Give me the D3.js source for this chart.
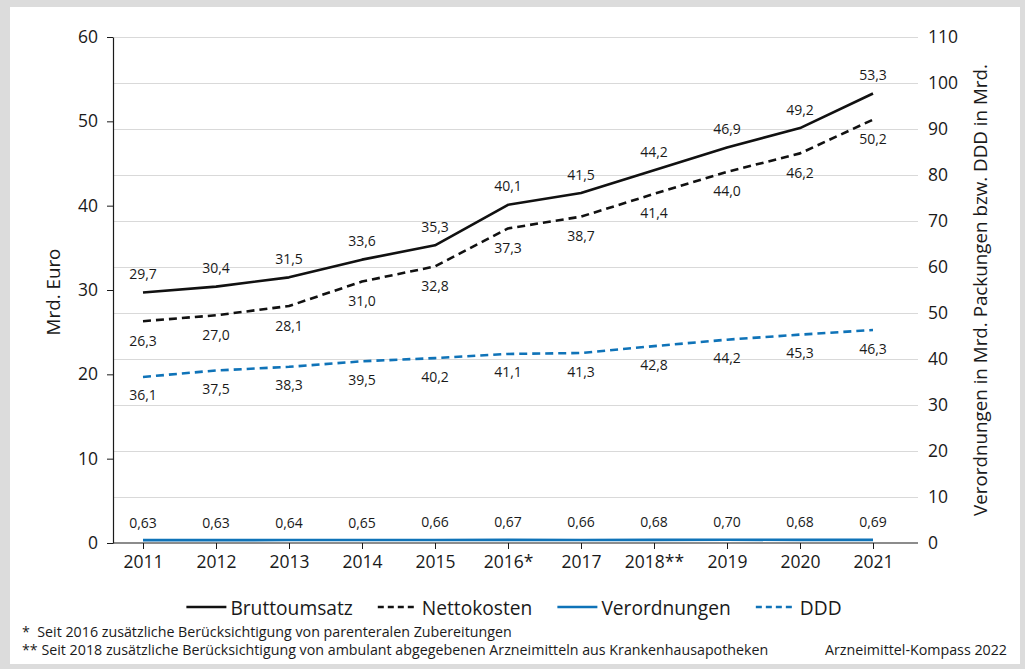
<!DOCTYPE html>
<html>
<head>
<meta charset="utf-8">
<script src="https://cdn.jsdelivr.net/npm/d3@7"></script>
<style>
  body { margin: 0; background: #fff; }
  svg text { font-family: "Open Sans", "Noto Sans", sans-serif; fill: #1a1a1a; }
  .axis path, .axis line { stroke: #1a1a1a; }
  .axis text { font-size: 17.5px; }
  .grid line { stroke: #d9d9d9; stroke-width: 1; }
  .value-label { font-size: 14px; text-anchor: middle; }
  .axis-title { font-size: 18.8px; text-anchor: middle; }
  .legend text { font-size: 19.2px; }
  .footnote { font-size: 14.25px; }
</style>
</head>
<body>
<div id="chart"></div>
<script>
// data
const years = ['2011', '2012', '2013', '2014', '2015', '2016*', '2017', '2018**', '2019', '2020', '2021'];
const bruttoumsatz = [29.7, 30.4, 31.5, 33.6, 35.3, 40.1, 41.5, 44.2, 46.9, 49.2, 53.3];
const nettokosten = [26.3, 27.0, 28.1, 31.0, 32.8, 37.3, 38.7, 41.4, 44.0, 46.2, 50.2];
const verordnungen = [0.63, 0.63, 0.64, 0.65, 0.66, 0.67, 0.66, 0.68, 0.70, 0.68, 0.69];
const ddd = [36.1, 37.5, 38.3, 39.5, 40.2, 41.1, 41.3, 42.8, 44.2, 45.3, 46.3];

const leftTicks = [0, 10, 20, 30, 40, 50, 60];
const rightTicks = [0, 10, 20, 30, 40, 50, 60, 70, 80, 90, 100, 110];

const footnotes = [
  '*  Seit 2016 zusätzliche Berücksichtigung von parenteralen Zubereitungen',
  '** Seit 2018 zusätzliche Berücksichtigung von ambulant abgegebenen Arzneimitteln aus Krankenhausapotheken'
];
const source = 'Arzneimittel-Kompass 2022';

const de = d3.formatLocale({decimal: ',', thousands: '.', grouping: [3], currency: ['', ' €']});
const blue = '#0f73b8';

// series config: which axis, style, label side
const series = [
  {name: 'Bruttoumsatz', values: bruttoumsatz, axis: 'left', color: '#111', dash: null, width: 2.6, fmt: de.format('.1f'), dy: -19},
  {name: 'Nettokosten', values: nettokosten, axis: 'left', color: '#111', dash: '8,5', width: 2.6, fmt: de.format('.1f'), dy: 19},
  {name: 'Verordnungen', values: verordnungen, axis: 'right', color: blue, dash: null, width: 2.6, fmt: de.format('.2f'), dy: -18},
  {name: 'DDD', values: ddd, axis: 'right', color: blue, dash: '8,5', width: 2.6, fmt: de.format('.1f'), dy: 18}
];

const width = 1025, height = 669;
const plot = {left: 113, right: 918, top: 37, bottom: 543};

const svg = d3.select('#chart')
  .append('svg')
    .attr('width', width)
    .attr('height', height);

// grey frame around the white panel
svg.append('rect')
    .attr('width', width)
    .attr('height', height)
    .attr('fill', '#dcdcdc');
svg.append('rect')
    .attr('x', 10)
    .attr('y', 7)
    .attr('width', 1010)
    .attr('height', 657)
    .attr('fill', '#fff');

// scales
const xScale = d3.scalePoint()
  .domain(years)
  .range([143, 873]);

const yLeft = d3.scaleLinear()
  .domain([0, 60])
  .range([plot.bottom, plot.top]);

const yRight = d3.scaleLinear()
  .domain([0, 110])
  .range([plot.bottom, plot.top]);

// gridlines come from the right axis
svg.append('g')
    .attr('class', 'grid')
  .selectAll('line')
  .data(rightTicks.filter(d => d > 0))
  .join('line')
    .attr('x1', plot.left)
    .attr('x2', plot.right)
    .attr('y1', d => yRight(d) + 0.5)
    .attr('y2', d => yRight(d) + 0.5);

// axes
const xAxisG = svg.append('g')
    .attr('class', 'axis x-axis')
    .attr('transform', `translate(0,${plot.bottom})`)
    .call(d3.axisBottom(xScale).tickSize(6).tickSizeOuter(0).tickPadding(7));
xAxisG.select('.domain').remove();
xAxisG.append('line')
    .attr('x1', plot.left)
    .attr('x2', plot.right)
    .attr('stroke', '#1a1a1a')
    .attr('stroke-width', 1.2);

const yLeftG = svg.append('g')
    .attr('class', 'axis y-axis-left')
    .attr('transform', `translate(${plot.left},0)`)
    .call(d3.axisLeft(yLeft).tickValues(leftTicks).tickSize(6).tickSizeOuter(0).tickPadding(9));
yLeftG.select('.domain').attr('stroke-width', 1.2);

const yRightG = svg.append('g')
    .attr('class', 'axis y-axis-right')
    .attr('transform', `translate(${plot.right},0)`)
    .call(d3.axisRight(yRight).tickValues(rightTicks).tickSize(0).tickPadding(10));
yRightG.select('.domain').remove();

// axis titles
svg.append('text')
    .attr('class', 'axis-title')
    .attr('transform', `translate(53,292) rotate(-90)`)
    .attr('dominant-baseline', 'central')
    .text('Mrd. Euro');

svg.append('text')
    .attr('class', 'axis-title')
    .attr('transform', `translate(980,290) rotate(-90)`)
    .attr('dominant-baseline', 'central')
    .text('Verordnungen in Mrd. Packungen bzw. DDD in Mrd.');

// lines and value labels
series.forEach(s => {
  const yScale = s.axis === 'left' ? yLeft : yRight;
  const line = d3.line()
    .x((d, i) => xScale(years[i]))
    .y(d => yScale(d));

  svg.append('path')
      .datum(s.values)
      .attr('fill', 'none')
      .attr('stroke', s.color)
      .attr('stroke-width', s.width)
      .attr('stroke-dasharray', s.dash)
      .attr('stroke-linejoin', 'round')
      .attr('d', line);

  svg.append('g')
    .selectAll('text')
    .data(s.values)
    .join('text')
      .attr('class', 'value-label')
      .attr('x', (d, i) => xScale(years[i]))
      .attr('y', d => yScale(d) + s.dy)
      .attr('dominant-baseline', 'central')
      .text(d => s.fmt(d));
});

// legend, laid out left to right and centred
const legend = svg.append('g')
    .attr('class', 'legend');
let lx = 0;
series.forEach(s => {
  const item = legend.append('g').attr('transform', `translate(${lx},0)`);
  item.append('line')
      .attr('x1', 0)
      .attr('x2', 40)
      .attr('stroke', s.color)
      .attr('stroke-width', 2.6)
      .attr('stroke-dasharray', s.dash ? '6,4' : null);
  const t = item.append('text')
      .attr('x', 44)
      .attr('dominant-baseline', 'central')
      .text(s.name);
  lx += 44 + t.node().getComputedTextLength() + 25;
});
const legendW = lx - 25;
legend.attr('transform', `translate(${514 - legendW / 2},607)`);

// footnotes and source
svg.selectAll('.footnote-line')
  .data(footnotes)
  .join('text')
    .attr('class', 'footnote footnote-line')
    .attr('x', 22)
    .attr('y', (d, i) => 637 + i * 18)
    .attr('xml:space', 'preserve')
    .style('white-space', 'pre')
    .text(d => d);

svg.append('text')
    .attr('class', 'footnote')
    .attr('x', 1007)
    .attr('y', 655)
    .attr('text-anchor', 'end')
    .text(source);
</script>
</body>
</html>
